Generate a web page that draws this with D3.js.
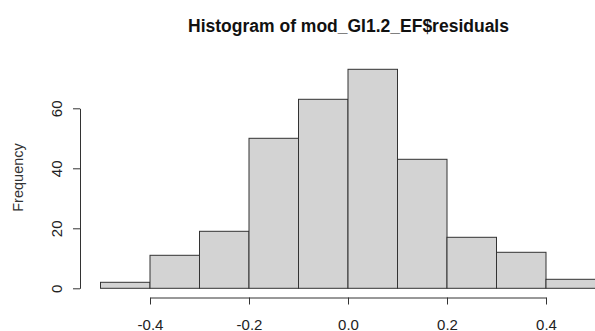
<!DOCTYPE html>
<html><head><meta charset="utf-8">
<script src="https://cdn.jsdelivr.net/npm/d3@7"></script>
<style>body{margin:0;background:#fff}svg{display:block}text{font-family:"Liberation Sans",Arial,sans-serif}</style>
</head><body>
<svg id="c" width="595" height="331"></svg>
<script>
const binStarts = [-0.5,-0.4,-0.3,-0.2,-0.1,0.0,0.1,0.2,0.3,0.4];
const binWidth = 0.1;
const counts = [2,11,19,50,63,73,43,17,12,3];
const xTicks = [-0.4,-0.2,0.0,0.2,0.4];
const yTicks = [0,20,40,60];
const title = "Histogram of mod_GI1.2_EF$residuals";
const yLabel = "Frequency";

const svg = d3.select("#c");
const x = d3.scaleLinear().domain([-0.4,0.4]).range([150,546]);
const y = d3.scaleLinear().domain([0,60]).range([288.3,108.3]);

svg.append("g").selectAll("rect").data(counts).join("rect")
  .attr("x", (d,i)=>x(binStarts[i]))
  .attr("width", (d,i)=>x(binStarts[i]+binWidth)-x(binStarts[i]))
  .attr("y", d=>y(d))
  .attr("height", d=>y(0)-y(d))
  .attr("fill","#d3d3d3").attr("stroke","#333").attr("stroke-width",1);

const xa = svg.append("g").attr("transform","translate(0,297.5)")
  .call(d3.axisBottom(x).tickValues(xTicks).tickFormat(d3.format(".1f")).tickSize(7).tickSizeOuter(0));
xa.select(".domain").attr("stroke","#333");
xa.selectAll(".tick line").attr("stroke","#333");
xa.selectAll("text").attr("font-size",15).attr("fill","#222").attr("y",32).attr("dy","0")
  .text(d=>d3.format(".1f")(d).replace("−","-"));

const ya = svg.append("g").attr("transform","translate(80,0)")
  .call(d3.axisLeft(y).tickValues(yTicks).tickSize(7).tickSizeOuter(0));
ya.select(".domain").attr("stroke","#333");
ya.selectAll(".tick line").attr("stroke","#333");
ya.selectAll("text").attr("font-size",15).attr("fill","#222")
  .attr("transform","rotate(-90)").attr("x",0).attr("y",-18).attr("dy","0").attr("text-anchor","middle");

svg.append("text").attr("x",348.5).attr("y",31.5).attr("text-anchor","middle")
  .attr("font-weight","bold").attr("font-size",17.5).attr("fill","#111").text(title);
svg.append("text").attr("transform","translate(23,177.5) rotate(-90)").attr("text-anchor","middle")
  .attr("font-size",14.5).attr("fill","#333").text(yLabel);
</script>
</body></html>
